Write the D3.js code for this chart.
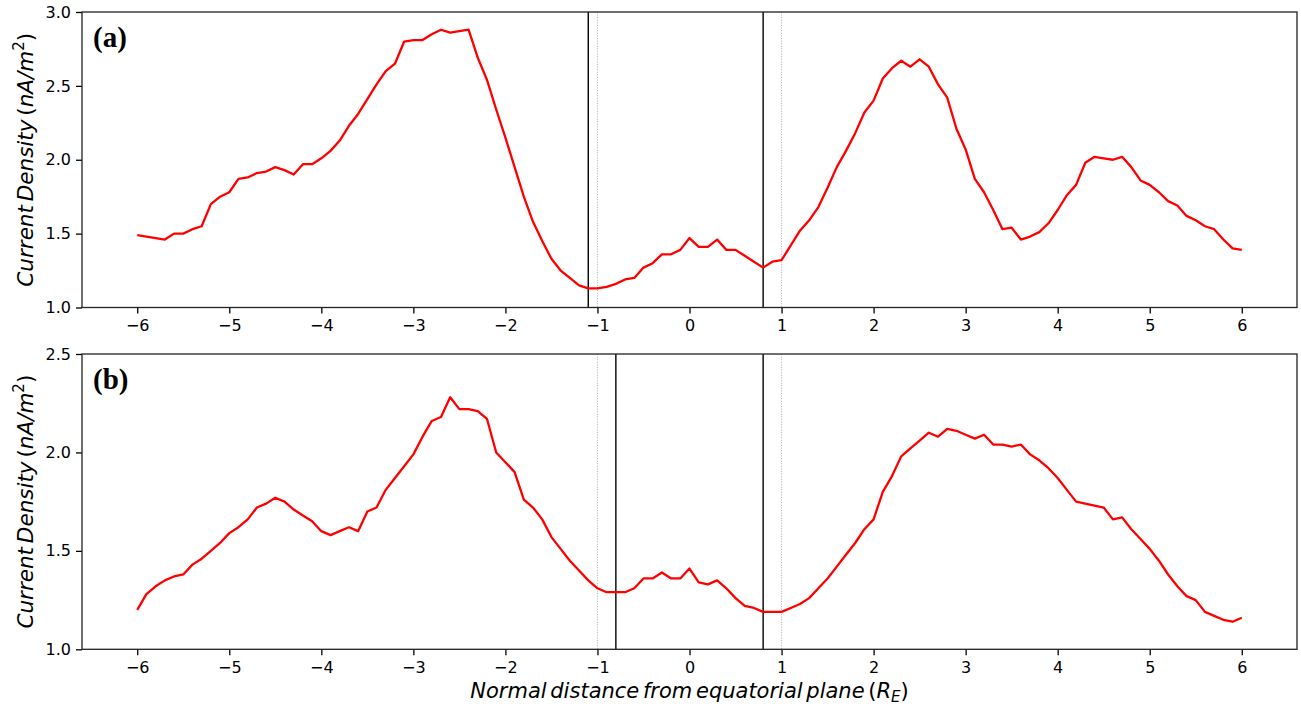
<!DOCTYPE html>
<html>
<head>
<meta charset="utf-8">
<script src="https://cdn.jsdelivr.net/npm/d3@7"></script>
<style>
  html, body { margin: 0; padding: 0; background: #fff; }
  svg { display: block; }
  text { font-family: "DejaVu Sans", sans-serif; fill: #000; }
</style>
</head>
<body>
<svg id="chart" width="1301" height="706"></svg>
<script>
// Normal distance from the equatorial plane (R_E), 0.1 R_E steps
const distance = d3.range(-60, 61).map(i => i / 10);

// Panel (a) current density (nA/m^2)
const densityA = [
  1.49, 1.48, 1.47, 1.46, 1.50, 1.50, 1.53, 1.55, 1.70, 1.75,
  1.78, 1.87, 1.88, 1.91, 1.92, 1.95, 1.93, 1.90, 1.97, 1.97,
  2.01, 2.06, 2.13, 2.23, 2.31, 2.41, 2.51, 2.60, 2.65, 2.80,
  2.81, 2.81, 2.85, 2.88, 2.86, 2.87, 2.88, 2.69, 2.54, 2.34,
  2.15, 1.95, 1.75, 1.58, 1.45, 1.33, 1.25, 1.20, 1.15, 1.13,
  1.13, 1.14, 1.16, 1.19, 1.20, 1.27, 1.30, 1.36, 1.36, 1.39,
  1.47, 1.41, 1.41, 1.46, 1.39, 1.39, 1.35, 1.31, 1.27, 1.31,
  1.32, 1.42, 1.52, 1.59, 1.68, 1.81, 1.95, 2.06, 2.18, 2.32,
  2.40, 2.55, 2.62, 2.67, 2.63, 2.68, 2.63, 2.51, 2.42, 2.21,
  2.07, 1.87, 1.78, 1.66, 1.53, 1.54, 1.46, 1.48, 1.51, 1.57,
  1.66, 1.76, 1.83, 1.98, 2.02, 2.01, 2.00, 2.02, 1.95, 1.86,
  1.83, 1.78, 1.72, 1.69, 1.62, 1.59, 1.55, 1.53, 1.46, 1.40,
  1.39
];

// Panel (b) current density (nA/m^2)
const densityB = [
  1.20, 1.28, 1.32, 1.35, 1.37, 1.38, 1.43, 1.46, 1.50, 1.54,
  1.59, 1.62, 1.66, 1.72, 1.74, 1.77, 1.75, 1.71, 1.68, 1.65,
  1.60, 1.58, 1.60, 1.62, 1.60, 1.70, 1.72, 1.81, 1.87, 1.93,
  1.99, 2.08, 2.16, 2.18, 2.28, 2.22, 2.22, 2.21, 2.17, 2.00,
  1.95, 1.90, 1.76, 1.72, 1.66, 1.57, 1.51, 1.45, 1.40, 1.35,
  1.31, 1.29, 1.29, 1.29, 1.31, 1.36, 1.36, 1.39, 1.36, 1.36,
  1.41, 1.34, 1.33, 1.35, 1.31, 1.26, 1.22, 1.21, 1.19, 1.19,
  1.19, 1.21, 1.23, 1.26, 1.31, 1.36, 1.42, 1.48, 1.54, 1.61,
  1.66, 1.80, 1.88, 1.98, 2.02, 2.06, 2.10, 2.08, 2.12, 2.11,
  2.09, 2.07, 2.09, 2.04, 2.04, 2.03, 2.04, 1.99, 1.96, 1.92,
  1.87, 1.81, 1.75, 1.74, 1.73, 1.72, 1.66, 1.67, 1.61, 1.56,
  1.51, 1.45, 1.38, 1.32, 1.27, 1.25, 1.19, 1.17, 1.15, 1.14,
  1.16
];

// Axis ticks
const xTicks = [-6, -5, -4, -3, -2, -1, 0, 1, 2, 3, 4, 5, 6];
const yTicksA = [1.0, 1.5, 2.0, 2.5, 3.0];
const yTicksB = [1.0, 1.5, 2.0, 2.5];

// Boundary markers: solid lines per panel, dotted reference lines at ±1 R_E
const boundsA = [-1.1, 0.8];
const boundsB = [-0.8, 0.8];
const refLines = [-1, 1];

const panelNames = ["(a)", "(b)"];

const svg = d3.select("#chart");
const left = 82, right = 1297;
const x = d3.scaleLinear().domain([-6.6, 6.6]).range([left, right]);

const panels = [
  { name: panelNames[0], data: densityA, bounds: boundsA, ticks: yTicksA,
    domain: [1.0, 3.0], top: 12, bottom: 307.5 },
  { name: panelNames[1], data: densityB, bounds: boundsB, ticks: yTicksB,
    domain: [1.0, 2.5], top: 354, bottom: 649.3 }
];

const fmtX = d3.format("d");
const fmtY = d3.format(".1f");

panels.forEach(p => {
  const y = d3.scaleLinear().domain(p.domain).range([p.bottom, p.top]);
  const g = svg.append("g");

  // dotted reference lines
  g.selectAll("line.ref").data(refLines).join("line")
    .attr("class", "ref")
    .attr("x1", d => x(d)).attr("x2", d => x(d))
    .attr("y1", p.top).attr("y2", p.bottom)
    .attr("stroke", "#aaa").attr("stroke-width", 0.9)
    .attr("stroke-dasharray", "1,1.6");

  // solid boundary lines
  g.selectAll("line.bound").data(p.bounds).join("line")
    .attr("class", "bound")
    .attr("x1", d => x(d)).attr("x2", d => x(d))
    .attr("y1", p.top).attr("y2", p.bottom)
    .attr("stroke", "#000").attr("stroke-width", 1.4);

  // current density curve
  const line = d3.line().x((d, i) => x(distance[i])).y(d => y(d));
  g.append("path").datum(p.data)
    .attr("d", line)
    .attr("fill", "none")
    .attr("stroke", "#ff0000")
    .attr("stroke-width", 2.3)
    .attr("stroke-linejoin", "round");

  // axes
  const xAxis = d3.axisBottom(x).tickValues(xTicks).tickFormat(fmtX)
    .tickSize(6).tickPadding(6);
  const yAxis = d3.axisLeft(y).tickValues(p.ticks).tickFormat(fmtY)
    .tickSize(6).tickPadding(5);

  const gx = g.append("g").attr("transform", `translate(0,${p.bottom})`).call(xAxis);
  const gy = g.append("g").attr("transform", `translate(${left},0)`).call(yAxis);
  [gx, gy].forEach(a => {
    a.select(".domain").remove();
    a.selectAll(".tick line").attr("stroke", "#000").attr("stroke-width", 1.3);
    a.selectAll(".tick text").style("font-family", "DejaVu Sans")
      .style("font-size", "16px").attr("fill", "#000");
  });

  // frame
  g.append("rect")
    .attr("x", left).attr("y", p.top)
    .attr("width", right - left).attr("height", p.bottom - p.top)
    .attr("fill", "none").attr("stroke", "#222").attr("stroke-width", 1.3);

  // panel letter
  g.append("text")
    .attr("x", 93).attr("y", p.top + 35)
    .style("font-family", "'Liberation Serif', serif")
    .style("font-weight", "bold")
    .style("font-size", "29px")
    .text(p.name);

  // y-axis title
  const yl = g.append("text")
    .attr("transform", `translate(33,${(p.top + p.bottom) / 2}) rotate(-90)`)
    .attr("text-anchor", "middle")
    .style("font-size", "21.5px")
    .style("word-spacing", "-3px");
  yl.append("tspan").style("font-style", "italic").text("Current Density");
  yl.append("tspan").text(" (");
  yl.append("tspan").style("font-style", "italic").text("nA/m");
  yl.append("tspan").attr("dy", -9).style("font-size", "15px").text("2");
  yl.append("tspan").attr("dy", 9).text(")");
});

// x-axis title
const xl = svg.append("text")
  .attr("x", (left + right) / 2).attr("y", 698)
  .attr("text-anchor", "middle")
  .style("font-size", "21px")
  .style("word-spacing", "-3px");
xl.append("tspan").style("font-style", "italic").text("Normal distance from equatorial plane");
xl.append("tspan").text(" (");
xl.append("tspan").style("font-style", "italic").text("R");
xl.append("tspan").attr("dy", 4).style("font-style", "italic").style("font-size", "15px").text("E");
xl.append("tspan").attr("dy", -4).text(")");
</script>
</body>
</html>
